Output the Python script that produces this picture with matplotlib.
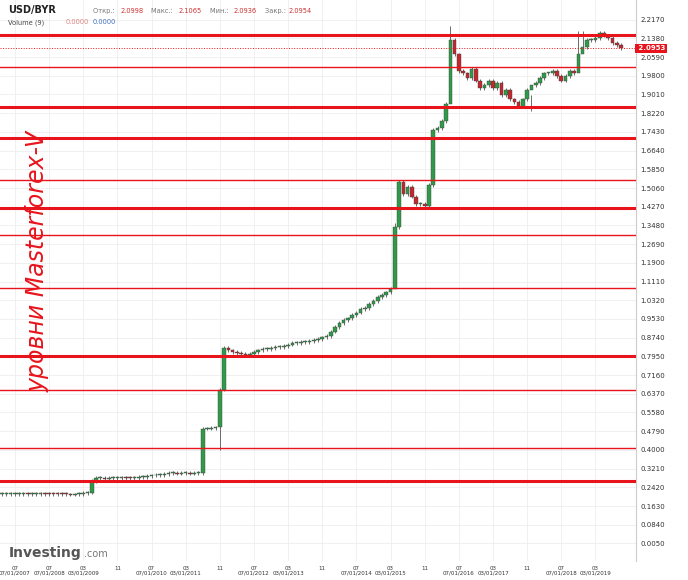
import numpy as np
import matplotlib.pyplot as plt

# monthly closes (x 10000 BYR), Apr 2007 .. May 2019
closes = [0.2145, 0.2145, 0.2145, 0.2147, 0.2148, 0.2150, 0.2148, 0.2150, 0.2150,
          0.2150, 0.2140, 0.2135, 0.2130, 0.2128, 0.2125, 0.2120, 0.2115, 0.2120, 0.2150, 0.2180, 0.2200,
          0.2700, 0.2800, 0.2800, 0.2790, 0.2800, 0.2810, 0.2820, 0.2830, 0.2820, 0.2810, 0.2820, 0.2840,
          0.2860, 0.2900, 0.2920, 0.2930, 0.2950, 0.2970, 0.3010, 0.3010, 0.3000, 0.3010, 0.3010, 0.3000,
          0.3010, 0.3030, 0.4900, 0.4900, 0.4920, 0.4950, 0.6550, 0.8300, 0.8200, 0.8150, 0.8100, 0.8050,
          0.8000, 0.8050, 0.8150, 0.8200, 0.8250, 0.8250, 0.8300, 0.8350, 0.8350, 0.8400, 0.8450, 0.8500,
          0.8500, 0.8550, 0.8550, 0.8600, 0.8650, 0.8700, 0.8750, 0.8800, 0.9000, 0.9200, 0.9350, 0.9500,
          0.9550, 0.9700, 0.9800, 0.9950, 1.0000, 1.0150, 1.0300, 1.0450, 1.0550, 1.0650, 1.0800, 1.3400,
          1.5300, 1.4800, 1.5100, 1.4700, 1.4400, 1.4400, 1.4300, 1.5200, 1.7500, 1.7600, 1.7900, 1.8600,
          2.1300, 2.0700, 2.0000, 1.9900, 1.9700, 2.0100, 1.9600, 1.9300, 1.9400, 1.9600, 1.9300, 1.9500,
          1.9000, 1.9200, 1.8800, 1.8700, 1.8500, 1.8800, 1.9200, 1.9400, 1.9500, 1.9700, 1.9900, 1.9900,
          2.0000, 1.9800, 1.9600, 1.9800, 2.0000, 1.9900, 2.0700, 2.1000, 2.1300, 2.1300, 2.1400, 2.1600,
          2.1500, 2.1400, 2.1200, 2.1100, 2.0954]
first_open = 0.2145
# long wicks: index -> (high, low)
wicks = {51: (0.66, 0.40), 92: (1.36, 1.20), 105: (2.19, 2.05), 124: (1.90, 1.83),
         135: (2.17, 2.05), 136: (2.17, 2.08)}

levels_thick = [2.153, 1.849, 1.718, 1.423, 0.798, 0.267]
levels_thin = [2.018, 1.541, 1.309, 1.085, 0.655, 0.406]
yticks = [2.2170 - 0.0790 * i for i in range(29)]
tick_months = [0, 8, 16, 24, 32, 40, 48, 56, 64, 72, 80, 88, 96, 104, 112, 120, 128, 136]
tick_labels = ["07\n07/01/2007", "07\n07/01/2008", "03\n03/01/2009", "11", "07\n07/01/2010",
               "03\n03/01/2011", "11", "07\n07/01/2012", "03\n03/01/2013", "11",
               "07\n07/01/2014", "03\n03/01/2015", "11", "07\n07/01/2016", "03\n03/01/2017",
               "11", "07\n07/01/2018", "03\n03/01/2019"]
last = 2.0953

fig = plt.figure(figsize=(6.88, 5.8), dpi=100)
ax = fig.add_axes([0.0, 0.032, 636 / 688, 0.968])

x = np.arange(len(closes)) - 3
opens = [first_open] + closes[:-1]
for i, (o, c) in enumerate(zip(opens, closes)):
    hi, lo = max(o, c) + 0.008, min(o, c) - 0.008
    if i in wicks:
        hi, lo = wicks[i]
    col = '#2f9a48' if c >= o else '#c0282d'
    ax.vlines(x[i], lo, hi, color='#555555', lw=0.6, zorder=2)
    ax.bar(x[i], max(abs(c - o), 0.004), bottom=min(o, c), width=0.85,
           color=col, edgecolor='#444444', lw=0.3, zorder=3)

for v in levels_thick:
    ax.axhline(v, color='#e8141c', lw=2.2, zorder=4)
for v in levels_thin:
    ax.axhline(v, color='#e8141c', lw=1.0, zorder=4)
ax.axhline(last, color='#e8141c', lw=0.7, ls=':', zorder=4)

ax.set_xlim(-3.5, 145.5)
ax.set_ylim(-0.071, 2.3)
ax.yaxis.tick_right()
ax.set_yticks(yticks)
ax.set_yticklabels([f"{v:.4f}" for v in yticks], fontsize=5, color='#333333')
ax.set_xticks(tick_months)
ax.set_xticklabels(tick_labels, fontsize=4, color='#333333', linespacing=0.9)
ax.tick_params(length=0, pad=3)
ax.grid(True, color='#eeeeee', lw=0.6)
ax.set_axisbelow(True)
for s in ax.spines.values():
    s.set_visible(False)
ax.spines['right'].set_visible(True)
ax.spines['right'].set_color('#cccccc')

ax.text(1.0, last, f" {last:.4f}", transform=ax.get_yaxis_transform(), fontsize=5,
        color='white', weight='bold', va='center', ha='left',
        bbox=dict(boxstyle='square,pad=0.2', fc='#e8141c', ec='none'))

fig.text(0.012, 0.978, "USD/BYR", fontsize=7, weight='bold', color='#222222')
fig.text(0.135, 0.978, "Откр.: ", fontsize=4.8, color='#777777')
fig.text(0.175, 0.978, "2.0998", fontsize=4.8, color='#d03030')
fig.text(0.22, 0.978, "Макс.: ", fontsize=4.8, color='#777777')
fig.text(0.26, 0.978, "2.1065", fontsize=4.8, color='#d03030')
fig.text(0.305, 0.978, "Мин.: ", fontsize=4.8, color='#777777')
fig.text(0.34, 0.978, "2.0936", fontsize=4.8, color='#d03030')
fig.text(0.385, 0.978, "Закр.: ", fontsize=4.8, color='#777777')
fig.text(0.42, 0.978, "2.0954", fontsize=4.8, color='#d03030')
fig.text(0.012, 0.958, "Volume (9)", fontsize=4.8, color='#444444')
fig.text(0.095, 0.958, "0.0000", fontsize=4.8, color='#e08080')
fig.text(0.135, 0.958, "0.0000", fontsize=4.8, color='#4070c0')
fig.text(0.055, 0.55, "уровни Masterforex-V", rotation=90, fontsize=17, style='italic',
         color='#e8141c', ha='center', va='center')
fig.text(0.012, 0.04, "Investing", fontsize=10, weight='bold', color='#555555')
fig.text(0.122, 0.04, ".com", fontsize=7, color='#777777')

fig.savefig("out.png", dpi=100)
